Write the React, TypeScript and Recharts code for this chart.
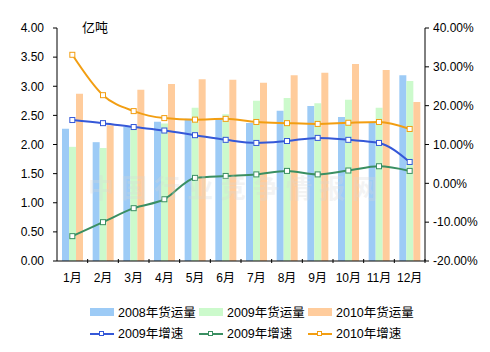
import React from "react";
import { ComposedChart, Bar, Line, XAxis, YAxis } from "recharts";

const months = ["1月", "2月", "3月", "4月", "5月", "6月", "7月", "8月", "9月", "10月", "11月", "12月"];

// 货运量 (亿吨)
const vol2008 = [2.27, 2.04, 2.3, 2.39, 2.44, 2.45, 2.37, 2.58, 2.66, 2.47, 2.37, 3.19];
const vol2009 = [1.96, 1.94, 2.3, 2.36, 2.63, 2.52, 2.75, 2.8, 2.71, 2.77, 2.63, 3.09];
const vol2010 = [2.87, 2.33, 2.94, 3.04, 3.12, 3.11, 3.06, 3.19, 3.23, 3.38, 3.28, 2.73];

// 增速 (%)
const growthBlue = [16.3, 15.5, 14.5, 13.6, 12.4, 11.2, 10.4, 10.9, 11.7, 11.2, 10.4, 5.5];
const growthGreen = [-13.6, -10.0, -6.4, -4.1, 1.4, 1.9, 2.3, 3.2, 2.3, 3.3, 4.4, 3.2];
const growth2010 = [33.1, 22.7, 18.6, 16.8, 16.4, 16.6, 15.8, 15.5, 15.3, 15.6, 15.8, 14.0];

const leftTicks = [0, 0.5, 1, 1.5, 2, 2.5, 3, 3.5, 4];
const rightTicks = [-20, -10, 0, 10, 20, 30, 40];

const data = months.map((m, i) => ({
  month: m,
  v2008: vol2008[i],
  v2009: vol2009[i],
  v2010: vol2010[i],
  g1: growthBlue[i],
  g2: growthGreen[i],
  g3: growth2010[i],
}));

const FONT = '"Liberation Sans", "Noto Sans CJK SC", Arial, sans-serif';
const C = {
  b2008: "#9DCBF6",
  b2009: "#CCFACC",
  b2010: "#FFCC9C",
  l1: "#3558D8",
  l2: "#3A8F62",
  l3: "#F29E12",
};

const squareDot = (color: string) => (props: any) => {
  const { cx, cy, index } = props;
  if (cx == null || cy == null) return <g key={index} />;
  return <rect key={index} x={cx - 2.5} y={cy - 2.5} width={5} height={5} fill="#fff" stroke={color} strokeWidth={1} />;
};

function MonthTick(props: any) {
  const { x, y, payload, width, visibleTicksCount } = props;
  const band = width && visibleTicksCount ? width / visibleTicksCount : 30.67;
  return (
    <g>
      <line x1={x + band / 2} x2={x + band / 2} y1={y} y2={y - 4} stroke="#000" />
      <text x={x} y={y + 19} textAnchor="middle" fontSize={12} fontFamily={FONT} fill="#000">
        {payload.value}
      </text>
    </g>
  );
}

const legendRows = [
  [
    { label: "2008年货运量", color: C.b2008, kind: "bar" },
    { label: "2009年货运量", color: C.b2009, kind: "bar" },
    { label: "2010年货运量", color: C.b2010, kind: "bar" },
  ],
  [
    { label: "2009年增速", color: C.l1, kind: "line" },
    { label: "2009年增速", color: C.l2, kind: "line" },
    { label: "2010年增速", color: C.l3, kind: "line" },
  ],
];

export default function App() {
  return (
    <div style={{ position: "absolute", left: 0, top: 0, width: 490, height: 352, background: "#fff", fontFamily: FONT }}>
      <ComposedChart
        width={490}
        height={352}
        data={data}
        margin={{ top: 28, right: 0, bottom: 61, left: 0 }}
        barGap={0}
        barSize={7}
      >
        <XAxis
          dataKey="month"
          height={30}
          tickSize={0}
          tickLine={false}
          axisLine={{ stroke: "#000" }}
          tick={<MonthTick />}
          interval={0}
        />
        <YAxis
          yAxisId="left"
          width={57}
          domain={[0, 4]}
          ticks={leftTicks}
          tickFormatter={(v: number) => v.toFixed(2)}
          axisLine={{ stroke: "#000" }}
          tickLine={{ stroke: "#000" }}
          tickSize={4}
          tickMargin={9}
          tick={{ fontSize: 12, fill: "#000", fontFamily: FONT }}
          interval={0}
        />
        <YAxis
          yAxisId="right"
          orientation="right"
          width={65}
          domain={[-20, 40]}
          ticks={rightTicks}
          tickFormatter={(v: number) => v.toFixed(2) + "%"}
          axisLine={{ stroke: "#000" }}
          tickLine={{ stroke: "#000" }}
          tickSize={4}
          tickMargin={4}
          tick={{ fontSize: 12, fill: "#000", fontFamily: FONT }}
          interval={0}
        />
        <Bar yAxisId="left" dataKey="v2008" fill={C.b2008} isAnimationActive={false} />
        <Bar yAxisId="left" dataKey="v2009" fill={C.b2009} isAnimationActive={false} />
        <Bar yAxisId="left" dataKey="v2010" fill={C.b2010} isAnimationActive={false} />
        <Line yAxisId="right" type="monotone" dataKey="g1" stroke={C.l1} strokeWidth={2} dot={squareDot(C.l1)} isAnimationActive={false} />
        <Line yAxisId="right" type="monotone" dataKey="g2" stroke={C.l2} strokeWidth={2} dot={squareDot(C.l2)} isAnimationActive={false} />
        <Line yAxisId="right" type="monotone" dataKey="g3" stroke={C.l3} strokeWidth={2} dot={squareDot(C.l3)} isAnimationActive={false} />
      </ComposedChart>

      <div style={{ position: "absolute", left: 82, top: 17, fontSize: 13, color: "#000" }}>亿吨</div>

      <div
        style={{
          position: "absolute",
          left: 88,
          top: 168,
          fontSize: 26,
          fontWeight: "bold",
          letterSpacing: 7,
          color: "rgba(215,215,215,0.3)",
          pointerEvents: "none",
          whiteSpace: "nowrap",
          fontFamily: '"Noto Sans CJK SC", sans-serif',
        }}
      >
        中国行业竞争情报网
      </div>

      {legendRows.map((row, r) => (
        <div key={r} style={{ position: "absolute", left: 90, top: 302 + r * 21, height: 16 }}>
          {row.map((item, i) => (
            <div
              key={i}
              style={{ position: "absolute", left: i * 109, top: 0, display: "flex", alignItems: "center", whiteSpace: "nowrap" }}
            >
              <svg width={25} height={16} style={{ marginRight: 3 }}>
                {item.kind === "bar" ? (
                  <rect x={0} y={4} width={24} height={8} fill={item.color} />
                ) : (
                  <g>
                    <line x1={0} x2={24} y1={9} y2={9} stroke={item.color} strokeWidth={2} />
                    <rect x={9.5} y={6.5} width={4} height={4} fill="#fff" stroke={item.color} />
                  </g>
                )}
              </svg>
              <span style={{ fontSize: 12.5, color: "#000" }}>{item.label}</span>
            </div>
          ))}
        </div>
      ))}
    </div>
  );
}
